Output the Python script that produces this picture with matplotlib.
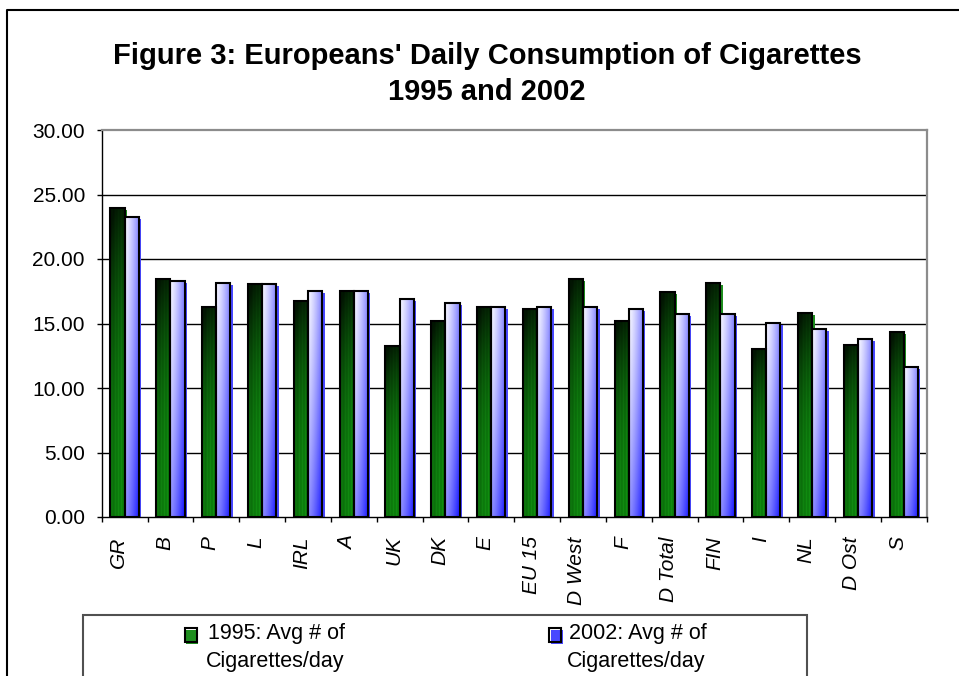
import numpy as np
import matplotlib.pyplot as plt
from matplotlib.patches import Rectangle
from matplotlib.lines import Line2D
from matplotlib.ticker import FormatStrFormatter
from matplotlib.transforms import ScaledTranslation

plt.rcParams['font.family'] = ['Liberation Sans', 'DejaVu Sans']

countries = ['GR', 'B', 'P', 'L', 'IRL', 'A', 'UK', 'DK', 'E', 'EU 15',
             'D West', 'F', 'D Total', 'FIN', 'I', 'NL', 'D Ost', 'S']
avg_1995 = [23.93, 18.47, 16.30, 18.04, 16.77, 17.54, 13.22, 15.22, 16.30,
            16.12, 18.47, 15.22, 17.42, 18.16, 13.05, 15.84, 13.36, 14.32]
avg_2002 = [23.28, 18.32, 18.16, 18.04, 17.54, 17.54, 16.90, 16.61, 16.30,
            16.30, 16.30, 16.12, 15.71, 15.71, 15.06, 14.60, 13.82, 11.65]
legend_labels = ['1995: Avg # of\nCigarettes/day', '2002: Avg # of\nCigarettes/day']
title = "Figure 3: Europeans' Daily Consumption of Cigarettes"
subtitle = "1995 and 2002"

W, H = 959, 676


def px(x, y):
    # pixel position (from top-left) -> figure fraction
    return x / W, 1 - y / H


def green_img(nx=24, ny=120):
    tx = np.linspace(0, 1, nx)[None, :]
    ty = np.linspace(0, 1, ny)[:, None]
    dark = 0.75 * (1 - ty) ** 2.4 + 0.25 * (1 - tx) ** 3
    dark = np.clip(dark, 0, 0.85)
    stripes = 0.10 * (np.abs(np.sin(tx * np.pi * 4.5)) > 0.92)
    g = (0.50 + stripes) * (1 - dark)
    r = 0.05 * (1 - dark) + stripes * 0.3 * (1 - dark)
    b = r.copy()
    img = np.stack(np.broadcast_arrays(r, g, b), axis=-1)
    return np.clip(img, 0, 1)


def blue_img(nx=24, ny=120):
    tx = np.linspace(0, 1, nx)[None, :]
    ty = np.linspace(0, 1, ny)[:, None]
    t = np.clip(0.55 * tx ** 1.3 + 0.50 * ty ** 1.3, 0, 1)
    white = np.array([0.96, 0.96, 1.0])
    blue = np.array([0.12, 0.12, 1.0])
    t = np.broadcast_to(t, (ny, nx))[..., None]
    return white * (1 - t) + blue * t


fig = plt.figure(figsize=(W / 100, H / 100), dpi=100)
ax = fig.add_axes([101.7 / W, 1 - 517 / H, 825 / W, 387 / H])

bar_w = 0.31
shadow_dx = 2.5 / 45.8
g_img = green_img()
b_img = blue_img()
for i in range(len(countries)):
    for j, (vals, img, shcol) in enumerate([(avg_1995, g_img, '#1f8f1f'),
                                            (avg_2002, b_img, '#4848ff')]):
        x0 = i - bar_w + j * bar_w
        h = vals[i]
        ax.add_patch(Rectangle((x0 + shadow_dx, 0), bar_w, h - 0.15,
                               facecolor=shcol, edgecolor='none', zorder=2))
        ax.imshow(img, extent=[x0, x0 + bar_w, 0, h], aspect='auto',
                  interpolation='bilinear', zorder=3)
        ax.add_patch(Rectangle((x0, 0), bar_w, h, facecolor='none',
                               edgecolor='black', lw=1.5, zorder=4))

ax.set_xlim(-0.5, len(countries) - 0.5)
ax.set_ylim(0, 30)

yt = np.arange(0, 31, 5)
ax.set_yticks(yt)
ax.yaxis.set_major_formatter(FormatStrFormatter('%.2f'))
for v in yt[1:-1]:
    ax.axhline(v, color='black', lw=1, zorder=1)

ax.set_xticks(np.arange(-0.5, len(countries), 1))
ax.set_xticklabels([])
ax.set_xticks(np.arange(len(countries)), minor=True)
ax.set_xticklabels(countries, minor=True, rotation=90, fontsize=15,
                   style='italic')
ax.tick_params(axis='x', which='major', direction='out', length=3.6, width=1)
ax.tick_params(axis='x', which='minor', length=0, pad=14)
ax.tick_params(axis='y', direction='out', length=3.6, width=1, pad=8.5,
               labelsize=15)
shift = ScaledTranslation(-6 / 100, 0, fig.dpi_scale_trans)
for lab in ax.get_xticklabels(minor=True):
    lab.set_transform(lab.get_transform() + shift)

for s in ['left', 'bottom']:
    ax.spines[s].set_color('black')
    ax.spines[s].set_linewidth(1)
for s in ['top', 'right']:
    ax.spines[s].set_color('#8c8c8c')
    ax.spines[s].set_linewidth(1.6)

# titles
fig.text(*px(487, 56), title, ha='center', va='center', fontsize=21,
         fontweight='bold')
fig.text(*px(487, 92), subtitle, ha='center', va='center', fontsize=21,
         fontweight='bold')

# outer chart border (left and top edges visible)
fig.add_artist(Line2D([7 / W, 7 / W, 1], [0, 1 - 10 / H, 1 - 10 / H],
                      color='black', lw=1.5, transform=fig.transFigure))

# legend box
lx0, ly0 = px(83, 615)
fig.add_artist(Rectangle((lx0, -0.05), (807 - 83) / W, ly0 + 0.05,
                         facecolor='white', edgecolor='#505050', lw=1.5,
                         transform=fig.transFigure))
for (mx, tx), img, shcol, lab in zip([(185, 208), (549, 569)],
                                     [g_img, b_img],
                                     ['#1f8f1f', '#4848ff'], legend_labels):
    x0, y1 = px(mx, 628)
    x1, y0 = px(mx + 12, 642)
    fig.add_artist(Rectangle((x0 + 1.5 / W, y0 - 1.5 / H), x1 - x0, y1 - y0,
                             facecolor=shcol, edgecolor='none',
                             transform=fig.transFigure))
    lax = fig.add_axes([x0, y0, x1 - x0, y1 - y0])
    lax.imshow(img, aspect='auto', interpolation='bilinear',
               extent=[0, 1, 0, 1])
    lax.set_axis_off()
    fig.add_artist(Rectangle((x0, y0), x1 - x0, y1 - y0, facecolor='none',
                             edgecolor='black', lw=1.5,
                             transform=fig.transFigure, zorder=5))
    line1, line2 = lab.split('\n')
    fig.text(*px(tx, 633), line1, ha='left', va='center', fontsize=15.5)
    fig.text(*px(tx - 2, 662), line2, ha='left', va='center', fontsize=15.5)

fig.savefig('out.png', dpi=100)
